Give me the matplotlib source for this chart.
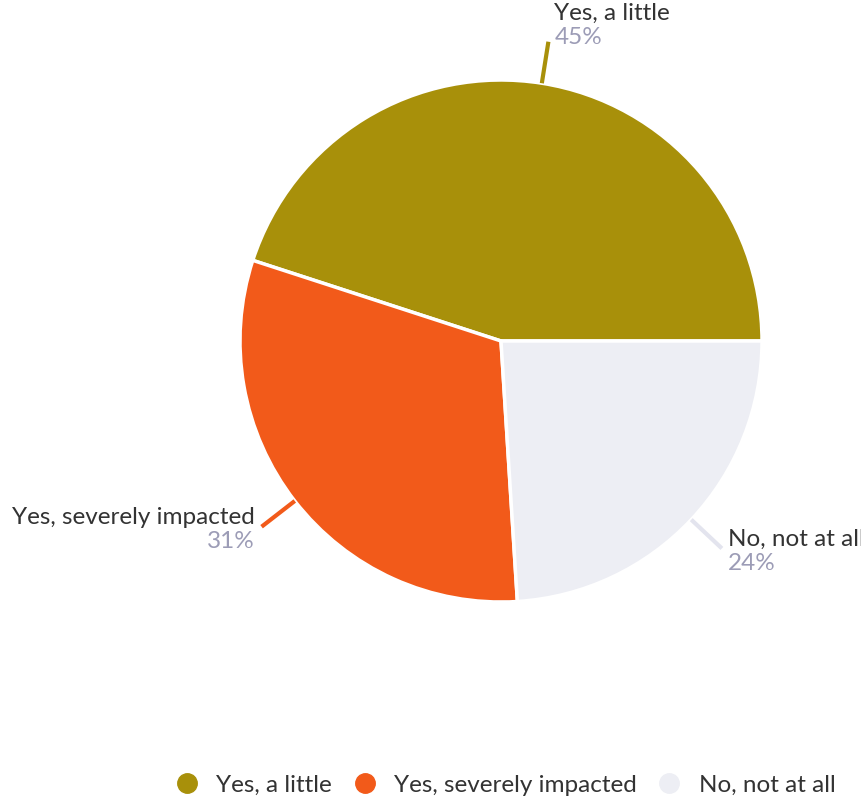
import numpy as np
import matplotlib
matplotlib.use("Agg")
import matplotlib.pyplot as plt
from matplotlib.lines import Line2D

plt.rcParams["font.family"] = ["Lato", "DejaVu Sans"]

labels = ["Yes, a little", "Yes, severely impacted", "No, not at all"]
shares = [45, 31, 24]
colors = ["#A8900A", "#F25A1A", "#EDEEF4"]
label_color = "#333333"
pct_color = "#9C9CB6"

W, H = 861, 799
fig = plt.figure(figsize=(W / 100, H / 100), dpi=100)
ax = fig.add_axes([0, 0, 1, 1])
ax.set_xlim(0, W)
ax.set_ylim(0, H)
ax.set_aspect("equal")
ax.axis("off")

cx, cy, r = 501, H - 341, 261
wedges, _ = ax.pie(shares, colors=colors, startangle=0, counterclock=True,
                   center=(cx, cy), radius=r,
                   wedgeprops=dict(edgecolor="white", linewidth=2.5))
ax.set_xlim(0, W)
ax.set_ylim(0, H)

fs = 17.5
for w, lab, val, col in zip(wedges, labels, shares, colors):
    mid = np.deg2rad((w.theta1 + w.theta2) / 2)
    x0, y0 = cx + r * np.cos(mid), cy + r * np.sin(mid)
    x1, y1 = cx + (r + 42) * np.cos(mid), cy + (r + 42) * np.sin(mid)
    lc = "#E3E4EE" if col == colors[2] else col
    ax.plot([x0, x1], [y0, y1], color=lc, lw=3, solid_capstyle="butt")
    if np.cos(mid) >= 0:
        tx, ha = x1 + 6, "left"
    else:
        tx, ha = x1 - 7, "right"
    if np.sin(mid) > 0.9:
        ty_lab, ty_pct = y1 + 28, y1 + 4
    else:
        ty_lab, ty_pct = y1 + 9, y1 - 15
    ax.text(tx, ty_lab, lab, ha=ha, va="center", fontsize=fs, color=label_color)
    ax.text(tx, ty_pct, f"{val}%", ha=ha, va="center", fontsize=fs, color=pct_color)

handles = [Line2D([], [], marker="o", ls="", markersize=14, markerfacecolor=c,
                  markeredgecolor=c) for c in colors]
fig.legend(handles, labels, loc="center", bbox_to_anchor=(499 / W, 1 - 785 / H),
           ncol=3, frameon=False, fontsize=fs, handletextpad=0.2,
           columnspacing=0.35, labelcolor=label_color)

fig.savefig("out.png", dpi=100)
